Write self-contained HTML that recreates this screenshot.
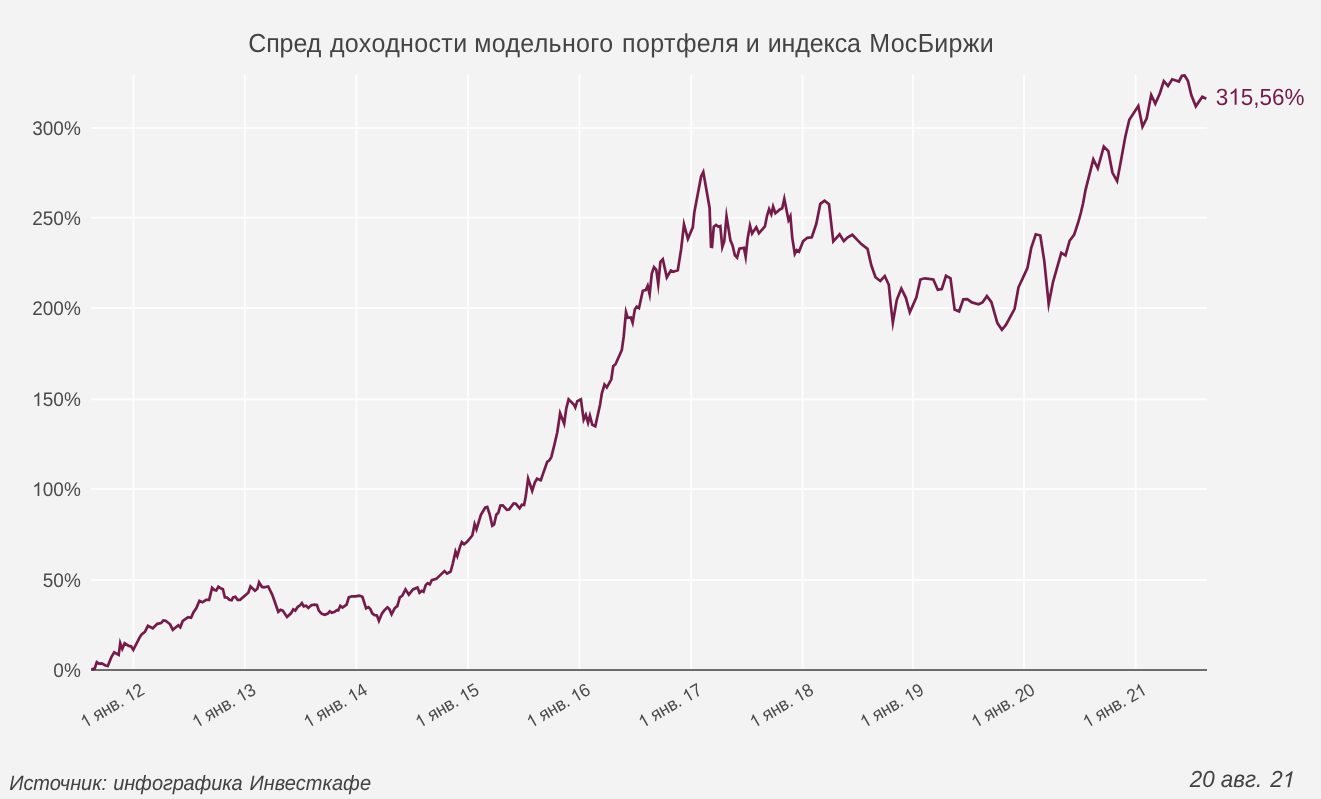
<!DOCTYPE html>
<html><head><meta charset="utf-8"><title>chart</title>
<style>
html,body{margin:0;padding:0;background:#f3f3f3;}
body{width:1321px;height:799px;overflow:hidden;font-family:"Liberation Sans",sans-serif;}
svg{display:block;font-family:"Liberation Sans",sans-serif;}
text{text-rendering:geometricPrecision;}
#txt{opacity:0.999;}
</style></head><body>
<svg width="1321" height="799" viewBox="0 0 1321 799">
<rect x="0" y="0" width="1321" height="799" fill="#f3f3f3"/>

<g stroke="#fdfdfd" stroke-width="1.9" fill="none">
<line x1="133.35" y1="74.2" x2="133.35" y2="670.0"/>
<line x1="244.9" y1="74.2" x2="244.9" y2="670.0"/>
<line x1="356.4" y1="74.2" x2="356.4" y2="670.0"/>
<line x1="468.1" y1="74.2" x2="468.1" y2="670.0"/>
<line x1="579.5" y1="74.2" x2="579.5" y2="670.0"/>
<line x1="691.2" y1="74.2" x2="691.2" y2="670.0"/>
<line x1="802.6" y1="74.2" x2="802.6" y2="670.0"/>
<line x1="912.9" y1="74.2" x2="912.9" y2="670.0"/>
<line x1="1024.1" y1="74.2" x2="1024.1" y2="670.0"/>
<line x1="1135.6" y1="74.2" x2="1135.6" y2="670.0"/>
<line x1="91.0" y1="128.0" x2="1207.0" y2="128.0"/>
<line x1="91.0" y1="217.8" x2="1207.0" y2="217.8"/>
<line x1="91.0" y1="308.0" x2="1207.0" y2="308.0"/>
<line x1="91.0" y1="399.2" x2="1207.0" y2="399.2"/>
<line x1="91.0" y1="489.0" x2="1207.0" y2="489.0"/>
<line x1="91.0" y1="580.0" x2="1207.0" y2="580.0"/>
</g>
<line x1="91.0" y1="670.0" x2="1207.0" y2="670.0" stroke="#6c6c6c" stroke-width="2.0"/>
<path d="M91.3,669.3 L94.6,668.7 L96.8,662.2 L98.9,663.7 L101.8,663.3 L105.5,665.5 L107.8,666.0 L111.5,656.8 L114.2,652.3 L118.7,654.9 L120.24,643.19 L122.3,648.9 L124.7,643.3 L128.8,645.9 L131.0,646.3 L133.3,649.8 L139.3,638.1 L141.6,634.3 L144.9,631.8 L147.9,625.8 L152.8,628.3 L157.3,623.8 L161.1,623.1 L163.3,620.5 L165.6,620.8 L170.1,624.3 L172.8,629.8 L178.3,625.3 L180.3,627.3 L182.8,620.8 L188.1,617.1 L191.1,617.8 L193.4,612.5 L196.4,608.0 L199.4,600.8 L202.4,602.3 L206.1,599.8 L209.1,599.8 L212.1,587.8 L214.4,590.0 L216.3,590.5 L218.4,586.7 L221.1,588.5 L222.9,589.3 L224.9,597.5 L227.1,597.5 L229.4,599.8 L231.6,600.2 L233.1,597.5 L235.4,596.8 L237.6,599.8 L239.9,599.8 L240.0,599.8 L248.3,592.8 L250.5,586.5 L255.0,590.7 L257.3,588.8 L259.1,582.3 L261.8,586.8 L264.0,587.4 L268.2,586.5 L272.3,594.8 L278.3,611.8 L280.5,609.8 L282.8,610.6 L287.0,616.9 L291.0,613.3 L293.3,609.4 L295.3,610.6 L297.8,606.8 L300.1,605.3 L301.9,603.1 L303.8,606.4 L306.1,605.8 L308.3,607.9 L311.3,605.3 L314.3,604.6 L316.9,604.9 L318.8,610.6 L321.8,613.9 L324.8,614.8 L327.8,613.6 L329.8,611.3 L331.9,612.8 L334.6,611.8 L336.8,610.1 L338.3,610.3 L340.3,605.8 L342.5,607.6 L346.6,604.6 L348.8,597.4 L351.9,596.3 L355.6,596.3 L359.4,595.6 L362.4,596.8 L366.1,608.3 L368.4,607.1 L370.3,609.1 L372.4,613.6 L374.7,615.1 L376.9,615.4 L378.9,620.8 L381.9,613.6 L384.1,610.6 L387.4,607.3 L389.4,609.1 L391.6,614.3 L394.6,608.3 L397.3,606.1 L399.8,597.3 L402.2,595.8 L405.5,589.4 L408.8,594.6 L413.0,589.4 L417.5,587.6 L419.5,592.8 L421.7,590.9 L423.5,591.8 L425.8,584.9 L427.7,583.1 L429.8,584.3 L431.8,580.1 L436.3,578.9 L444.5,571.1 L447.1,573.6 L450.6,571.5 L452.8,563.6 L455.5,551.6 L457.3,556.1 L459.9,547.1 L461.8,542.2 L464.1,544.3 L467.1,541.8 L472.3,535.5 L474.63,524.2 L476.5,529.3 L480.9,514.8 L485.1,507.7 L487.3,507.0 L489.6,514.0 L492.3,525.7 L494.1,524.5 L496.3,514.8 L498.3,512.8 L500.4,505.5 L502.8,505.3 L506.9,509.8 L509.1,509.5 L513.6,503.5 L515.9,503.8 L519.6,508.3 L521.9,504.7 L524.1,505.0 L525.8,496.1 L528.13,478.69 L532.2,490.8 L534.8,482.6 L537.0,478.8 L540.8,480.3 L547.2,461.9 L549.3,460.4 L551.3,457.1 L554.3,445.1 L557.3,432.3 L560.11,413.19 L564.18,423.61 L566.3,408.3 L568.6,399.3 L573.8,404.5 L575.3,407.5 L577.3,401.2 L580.9,399.3 L583.68,419.71 L585.8,415.0 L588.07,422.7 L589.92,415.7 L592.3,424.8 L595.3,426.3 L600.1,404.5 L601.8,393.6 L604.5,384.6 L606.8,387.3 L611.3,379.3 L613.2,366.3 L615.5,364.3 L621.8,350.1 L623.7,336.5 L625.99,311.99 L627.8,317.8 L630.8,317.4 L632.63,322.8 L634.8,309.6 L636.8,306.6 L639.0,308.1 L642.8,290.8 L645.8,290.1 L647.68,285.8 L649.63,294.3 L651.8,273.5 L654.0,267.2 L656.3,269.8 L658.23,284.1 L660.4,261.8 L662.8,259.3 L666.8,277.3 L670.9,270.5 L673.1,271.7 L677.8,270.2 L681.1,249.5 L683.99,224.39 L687.9,238.8 L692.8,227.3 L694.3,212.5 L701.1,176.5 L703.3,172.0 L709.6,208.0 L711.0,246.6 L712.0,246.8 L713.8,226.8 L716.1,224.9 L718.3,226.8 L720.3,226.1 L722.3,247.11 L724.3,241.1 L726.51,216.3 L730.4,240.3 L732.6,245.6 L734.9,255.3 L737.1,257.6 L739.4,248.6 L743.9,247.8 L745.66,256.7 L747.6,238.8 L749.96,225.6 L752.1,233.6 L756.3,227.3 L758.9,233.3 L761.9,229.8 L764.9,226.4 L767.1,215.6 L769.1,209.2 L771.3,214.3 L773.12,206.6 L775.4,213.3 L779.9,209.5 L782.2,208.3 L784.3,198.8 L788.5,220.1 L790.4,216.19 L792.3,238.1 L794.8,253.8 L796.8,250.1 L799.0,251.6 L803.2,241.1 L807.3,237.8 L811.8,237.3 L816.3,223.8 L820.3,203.8 L824.5,200.8 L829.0,204.3 L833.3,241.4 L839.6,234.3 L843.8,241.1 L847.8,237.3 L852.3,234.8 L861.3,244.1 L867.5,248.8 L871.3,265.3 L875.5,277.3 L880.3,281.0 L884.8,276.2 L888.8,284.8 L890.8,305.1 L892.86,322.6 L896.8,299.8 L901.3,288.6 L905.8,297.6 L909.8,312.3 L916.3,297.6 L920.4,279.5 L924.9,278.3 L933.3,279.5 L937.8,289.8 L941.8,289.0 L946.0,275.8 L950.5,278.3 L954.6,309.6 L959.1,311.4 L963.3,299.4 L967.3,299.1 L971.9,302.4 L978.6,304.3 L982.4,302.5 L986.9,296.1 L991.4,302.1 L997.4,323.1 L1001.9,329.8 L1005.9,324.9 L1014.6,308.8 L1018.4,287.8 L1018.5,287.3 L1023.0,277.6 L1027.5,267.8 L1031.3,247.5 L1035.8,234.3 L1040.3,235.5 L1044.3,261.1 L1048.69,304.0 L1053.0,282.1 L1061.3,252.8 L1065.5,255.4 L1069.6,240.8 L1074.1,234.8 L1078.3,222.0 L1080.8,213.0 L1083.1,203.3 L1085.5,190.1 L1093.3,159.3 L1097.8,168.3 L1103.8,146.6 L1108.3,151.1 L1112.5,172.8 L1117.1,181.1 L1120.8,161.6 L1125.3,136.8 L1129.3,119.8 L1138.3,105.9 L1142.5,126.6 L1146.7,118.3 L1151.2,95.0 L1155.3,103.7 L1159.8,93.5 L1163.8,81.2 L1168.0,86.0 L1172.2,79.3 L1178.9,81.5 L1181.9,75.8 L1184.6,75.5 L1187.9,80.8 L1191.3,95.0 L1195.8,106.3 L1202.3,96.8 L1206.3,98.8" fill="none" stroke="#751b4a" stroke-width="2.7" stroke-linejoin="miter" stroke-miterlimit="40" stroke-linecap="butt"/>
<g id="txt">
<g fill="#4a4a4a">
<g transform="matrix(1 0 0 1.04 80.80 134.90)"><text x="-48.59" y="0" font-size="19.0" xml:space="preserve">300%</text></g>
<g transform="matrix(1 0 0 1.04 80.80 224.70)"><text x="-48.59" y="0" font-size="19.0" xml:space="preserve">250%</text></g>
<g transform="matrix(1 0 0 1.04 80.80 314.90)"><text x="-48.59" y="0" font-size="19.0" xml:space="preserve">200%</text></g>
<g transform="matrix(1 0 0 1.04 80.80 406.10)"><path d="M763 0H583V1102Q518 1043 412.5 983Q307 924 223 894V1061Q374 1129 487 1226Q600 1323 647 1415H763Z" transform="translate(-48.59,0) scale(0.009277,-0.009277)"/><text x="-38.03" y="0" font-size="19.0" xml:space="preserve">50%</text></g>
<g transform="matrix(1 0 0 1.04 80.80 495.90)"><path d="M763 0H583V1102Q518 1043 412.5 983Q307 924 223 894V1061Q374 1129 487 1226Q600 1323 647 1415H763Z" transform="translate(-48.59,0) scale(0.009277,-0.009277)"/><text x="-38.03" y="0" font-size="19.0" xml:space="preserve">00%</text></g>
<g transform="matrix(1 0 0 1.04 80.80 586.90)"><text x="-38.03" y="0" font-size="19.0" xml:space="preserve">50%</text></g>
<g transform="matrix(1 0 0 1.04 80.80 676.90)"><text x="-27.46" y="0" font-size="19.0" xml:space="preserve">0%</text></g>
</g>
<g fill="#4a4a4a">
<g transform="translate(145.55,693.35) rotate(-30) scale(1,1.04)"><path d="M763 0H583V1102Q518 1043 412.5 983Q307 924 223 894V1061Q374 1129 487 1226Q600 1323 647 1415H763Z" transform="translate(-70.20,0) scale(0.008545,-0.008545)"/><text x="-60.72" y="0" font-size="17.5" letter-spacing="-0.253" xml:space="preserve"> янв. </text><path d="M763 0H583V1102Q518 1043 412.5 983Q307 924 223 894V1061Q374 1129 487 1226Q600 1323 647 1415H763Z" transform="translate(-19.21,0) scale(0.008545,-0.008545)"/><text x="-9.73" y="0" font-size="17.5" letter-spacing="-0.253" xml:space="preserve">2</text></g>
<g transform="translate(257.10,693.35) rotate(-30) scale(1,1.04)"><path d="M763 0H583V1102Q518 1043 412.5 983Q307 924 223 894V1061Q374 1129 487 1226Q600 1323 647 1415H763Z" transform="translate(-70.20,0) scale(0.008545,-0.008545)"/><text x="-60.72" y="0" font-size="17.5" letter-spacing="-0.253" xml:space="preserve"> янв. </text><path d="M763 0H583V1102Q518 1043 412.5 983Q307 924 223 894V1061Q374 1129 487 1226Q600 1323 647 1415H763Z" transform="translate(-19.21,0) scale(0.008545,-0.008545)"/><text x="-9.73" y="0" font-size="17.5" letter-spacing="-0.253" xml:space="preserve">3</text></g>
<g transform="translate(368.60,693.35) rotate(-30) scale(1,1.04)"><path d="M763 0H583V1102Q518 1043 412.5 983Q307 924 223 894V1061Q374 1129 487 1226Q600 1323 647 1415H763Z" transform="translate(-70.20,0) scale(0.008545,-0.008545)"/><text x="-60.72" y="0" font-size="17.5" letter-spacing="-0.253" xml:space="preserve"> янв. </text><path d="M763 0H583V1102Q518 1043 412.5 983Q307 924 223 894V1061Q374 1129 487 1226Q600 1323 647 1415H763Z" transform="translate(-19.21,0) scale(0.008545,-0.008545)"/><text x="-9.73" y="0" font-size="17.5" letter-spacing="-0.253" xml:space="preserve">4</text></g>
<g transform="translate(480.30,693.35) rotate(-30) scale(1,1.04)"><path d="M763 0H583V1102Q518 1043 412.5 983Q307 924 223 894V1061Q374 1129 487 1226Q600 1323 647 1415H763Z" transform="translate(-70.20,0) scale(0.008545,-0.008545)"/><text x="-60.72" y="0" font-size="17.5" letter-spacing="-0.253" xml:space="preserve"> янв. </text><path d="M763 0H583V1102Q518 1043 412.5 983Q307 924 223 894V1061Q374 1129 487 1226Q600 1323 647 1415H763Z" transform="translate(-19.21,0) scale(0.008545,-0.008545)"/><text x="-9.73" y="0" font-size="17.5" letter-spacing="-0.253" xml:space="preserve">5</text></g>
<g transform="translate(591.70,693.35) rotate(-30) scale(1,1.04)"><path d="M763 0H583V1102Q518 1043 412.5 983Q307 924 223 894V1061Q374 1129 487 1226Q600 1323 647 1415H763Z" transform="translate(-70.20,0) scale(0.008545,-0.008545)"/><text x="-60.72" y="0" font-size="17.5" letter-spacing="-0.253" xml:space="preserve"> янв. </text><path d="M763 0H583V1102Q518 1043 412.5 983Q307 924 223 894V1061Q374 1129 487 1226Q600 1323 647 1415H763Z" transform="translate(-19.21,0) scale(0.008545,-0.008545)"/><text x="-9.73" y="0" font-size="17.5" letter-spacing="-0.253" xml:space="preserve">6</text></g>
<g transform="translate(703.40,693.35) rotate(-30) scale(1,1.04)"><path d="M763 0H583V1102Q518 1043 412.5 983Q307 924 223 894V1061Q374 1129 487 1226Q600 1323 647 1415H763Z" transform="translate(-70.20,0) scale(0.008545,-0.008545)"/><text x="-60.72" y="0" font-size="17.5" letter-spacing="-0.253" xml:space="preserve"> янв. </text><path d="M763 0H583V1102Q518 1043 412.5 983Q307 924 223 894V1061Q374 1129 487 1226Q600 1323 647 1415H763Z" transform="translate(-19.21,0) scale(0.008545,-0.008545)"/><text x="-9.73" y="0" font-size="17.5" letter-spacing="-0.253" xml:space="preserve">7</text></g>
<g transform="translate(814.80,693.35) rotate(-30) scale(1,1.04)"><path d="M763 0H583V1102Q518 1043 412.5 983Q307 924 223 894V1061Q374 1129 487 1226Q600 1323 647 1415H763Z" transform="translate(-70.20,0) scale(0.008545,-0.008545)"/><text x="-60.72" y="0" font-size="17.5" letter-spacing="-0.253" xml:space="preserve"> янв. </text><path d="M763 0H583V1102Q518 1043 412.5 983Q307 924 223 894V1061Q374 1129 487 1226Q600 1323 647 1415H763Z" transform="translate(-19.21,0) scale(0.008545,-0.008545)"/><text x="-9.73" y="0" font-size="17.5" letter-spacing="-0.253" xml:space="preserve">8</text></g>
<g transform="translate(925.10,693.35) rotate(-30) scale(1,1.04)"><path d="M763 0H583V1102Q518 1043 412.5 983Q307 924 223 894V1061Q374 1129 487 1226Q600 1323 647 1415H763Z" transform="translate(-70.20,0) scale(0.008545,-0.008545)"/><text x="-60.72" y="0" font-size="17.5" letter-spacing="-0.253" xml:space="preserve"> янв. </text><path d="M763 0H583V1102Q518 1043 412.5 983Q307 924 223 894V1061Q374 1129 487 1226Q600 1323 647 1415H763Z" transform="translate(-19.21,0) scale(0.008545,-0.008545)"/><text x="-9.73" y="0" font-size="17.5" letter-spacing="-0.253" xml:space="preserve">9</text></g>
<g transform="translate(1036.30,693.35) rotate(-30) scale(1,1.04)"><path d="M763 0H583V1102Q518 1043 412.5 983Q307 924 223 894V1061Q374 1129 487 1226Q600 1323 647 1415H763Z" transform="translate(-70.20,0) scale(0.008545,-0.008545)"/><text x="-60.72" y="0" font-size="17.5" letter-spacing="-0.253" xml:space="preserve"> янв. 20</text></g>
<g transform="translate(1147.80,693.35) rotate(-30) scale(1,1.04)"><path d="M763 0H583V1102Q518 1043 412.5 983Q307 924 223 894V1061Q374 1129 487 1226Q600 1323 647 1415H763Z" transform="translate(-70.20,0) scale(0.008545,-0.008545)"/><text x="-60.72" y="0" font-size="17.5" letter-spacing="-0.253" xml:space="preserve"> янв. 2</text><path d="M763 0H583V1102Q518 1043 412.5 983Q307 924 223 894V1061Q374 1129 487 1226Q600 1323 647 1415H763Z" transform="translate(-9.73,0) scale(0.008545,-0.008545)"/></g>
</g>
<text id="t1" transform="matrix(1 0 0 1.04 248.21 51.60)" x="0" y="0" font-size="25.0" fill="#444444" textLength="73.09" lengthAdjust="spacing">Спред</text>
<text id="t2" transform="matrix(1 0 0 1.04 329.90 51.60)" x="0" y="0" font-size="25.0" fill="#444444" textLength="137.25" lengthAdjust="spacing">доходности</text>
<text id="t3" transform="matrix(1 0 0 1.04 474.21 51.60)" x="0" y="0" font-size="25.0" fill="#444444" textLength="138.86" lengthAdjust="spacing">модельного</text>
<text id="t4" transform="matrix(1 0 0 1.04 622.12 51.60)" x="0" y="0" font-size="25.0" fill="#444444" textLength="116.71" lengthAdjust="spacing">портфеля</text>
<text id="t5" transform="matrix(1 0 0 1.04 745.83 51.60)" x="0" y="0" font-size="25.0" fill="#444444">и</text>
<text id="t6" transform="matrix(1 0 0 1.04 767.72 51.60)" x="0" y="0" font-size="25.0" fill="#444444" textLength="93.28" lengthAdjust="spacing">индекса</text>
<text id="t7" transform="matrix(1 0 0 1.04 869.32 51.60)" x="0" y="0" font-size="25.0" fill="#444444" textLength="124.38" lengthAdjust="spacing">МосБиржи</text>
<text id="f1" transform="matrix(1 0 0 1.04 9.17 789.50)" x="0" y="0" font-size="20" fill="#424242" font-style="italic" textLength="97.95" lengthAdjust="spacing">Источник:</text>
<text id="f2" transform="matrix(1 0 0 1.04 113.22 789.50)" x="0" y="0" font-size="20" fill="#424242" font-style="italic" textLength="129.42" lengthAdjust="spacing">инфографика</text>
<text id="f3" transform="matrix(1 0 0 1.04 249.55 789.50)" x="0" y="0" font-size="20" fill="#424242" font-style="italic" textLength="121.52" lengthAdjust="spacing">Инвесткафе</text>
<text id="d1" transform="matrix(1 0 0 1.04 1189.72 787.30)" x="0" y="0" font-size="22.4" fill="#424242" font-style="italic">20</text>
<text id="d2" transform="matrix(1 0 0 1.04 1220.86 787.30)" x="0" y="0" font-size="22.4" fill="#424242" font-style="italic">авг.</text>
<g id="d3" fill="#424242" transform="matrix(1 0 0 1.04 1270.24 787.30)"><text x="0.00" y="0" font-size="22.4" font-style="italic" xml:space="preserve">2</text><path d="M763 0H583V1102Q518 1043 412.5 983Q307 924 223 894V1061Q374 1129 487 1226Q600 1323 647 1415H763Z" transform="translate(10.82,0) skewX(-12) scale(0.010937,-0.010937)"/></g>
<g id="e1" fill="#751b4a" transform="matrix(1 0 0 1.04 1215.70 104.70)"><text x="0.00" y="0" font-size="22.5" xml:space="preserve">3</text><path d="M763 0H583V1102Q518 1043 412.5 983Q307 924 223 894V1061Q374 1129 487 1226Q600 1323 647 1415H763Z" transform="translate(12.51,0) scale(0.010986,-0.010986)"/><text x="25.03" y="0" font-size="22.5" xml:space="preserve">5,56%</text></g>
</g>
</svg></body></html>
